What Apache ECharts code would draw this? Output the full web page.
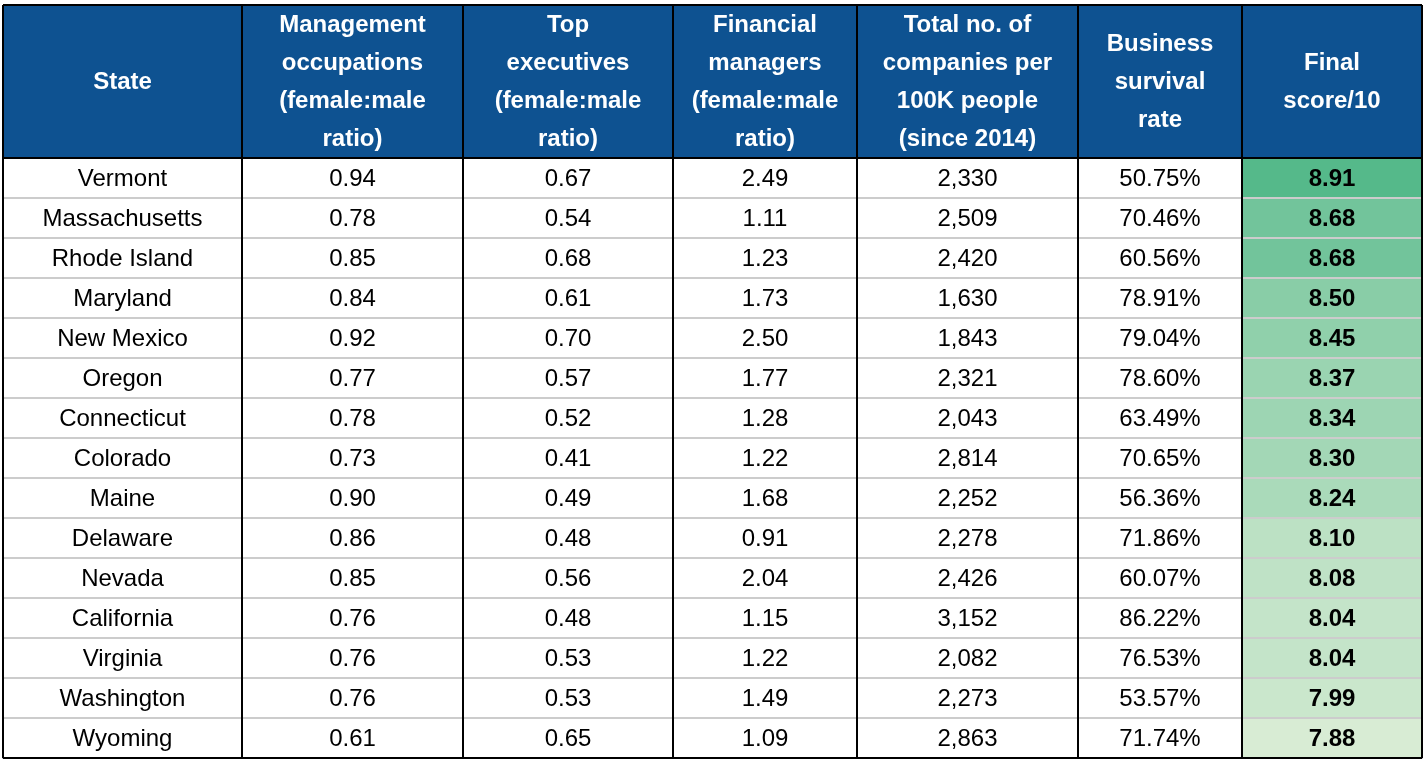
<!DOCTYPE html>
<html>
<head>
<meta charset="utf-8">
<title>Table</title>
<script src="https://cdn.jsdelivr.net/npm/echarts@6/dist/echarts.min.js"></script>
<style>html,body{margin:0;padding:0;background:#fff}</style>
</head>
<body>
<div id="main" style="width:1428px;height:764px;"></div>
<script>
// data
var states = ['Vermont','Massachusetts','Rhode Island','Maryland','New Mexico','Oregon','Connecticut','Colorado','Maine','Delaware','Nevada','California','Virginia','Washington','Wyoming'];
var mgmt = ['0.94','0.78','0.85','0.84','0.92','0.77','0.78','0.73','0.90','0.86','0.85','0.76','0.76','0.76','0.61'];
var topExec = ['0.67','0.54','0.68','0.61','0.70','0.57','0.52','0.41','0.49','0.48','0.56','0.48','0.53','0.53','0.65'];
var finMgr = ['2.49','1.11','1.23','1.73','2.50','1.77','1.28','1.22','1.68','0.91','2.04','1.15','1.22','1.49','1.09'];
var companies = ['2,330','2,509','2,420','1,630','1,843','2,321','2,043','2,814','2,252','2,278','2,426','3,152','2,082','2,273','2,863'];
var survival = ['50.75%','70.46%','60.56%','78.91%','79.04%','78.60%','63.49%','70.65%','56.36%','71.86%','60.07%','86.22%','76.53%','53.57%','71.74%'];
var finalScore = [8.91,8.68,8.68,8.50,8.45,8.37,8.34,8.30,8.24,8.10,8.08,8.04,8.04,7.99,7.88];
var headers = ['State','Management\noccupations\n(female:male\nratio)','Top\nexecutives\n(female:male\nratio)','Financial\nmanagers\n(female:male\nratio)','Total no. of\ncompanies per\n100K people\n(since 2014)','Business\nsurvival\nrate','Final\nscore/10'];

// layout (column edges in pixels)
var edges = [3, 242, 463, 673, 857, 1078, 1242, 1422];
var headTop = 5, headBottom = 158;
var cols = [states, mgmt, topExec, finMgr, companies, survival];

function mix(a, b, t) {
  var r = Math.round(a[0] + (b[0] - a[0]) * t);
  var g = Math.round(a[1] + (b[1] - a[1]) * t);
  var bl = Math.round(a[2] + (b[2] - a[2]) * t);
  return 'rgb(' + r + ',' + g + ',' + bl + ')';
}
var sMax = Math.max.apply(null, finalScore), sMin = Math.min.apply(null, finalScore);

var chart = echarts.init(document.getElementById('main'));
var font = '"Liberation Sans", Arial, Helvetica, sans-serif';

var graphics = [{
  type: 'rect', shape: {x: edges[0], y: headTop, width: edges[7] - edges[0], height: headBottom - headTop},
  style: {fill: '#0e5291'}, z: 1
}];
headers.forEach(function (h, i) {
  graphics.push({
    type: 'text', x: (edges[i] + edges[i + 1]) / 2, y: (headTop + headBottom) / 2 + 1, z: 3,
    style: {text: h, fill: '#fff', font: 'bold 24px ' + font, align: 'center', verticalAlign: 'middle', lineHeight: 38}
  });
});
for (var i = 0; i < edges.length; i++) {
  graphics.push({type: 'line', shape: {x1: edges[i], y1: headTop, x2: edges[i], y2: 758}, style: {stroke: '#000', lineWidth: 2}, z: 10});
}
graphics.push({type: 'line', shape: {x1: edges[0], y1: headTop, x2: edges[7], y2: headTop}, style: {stroke: '#000', lineWidth: 2}, z: 10});
graphics.push({type: 'line', shape: {x1: edges[0], y1: headBottom, x2: edges[7], y2: headBottom}, style: {stroke: '#000', lineWidth: 2}, z: 10});
graphics.push({type: 'line', shape: {x1: edges[0], y1: 758, x2: edges[7], y2: 758}, style: {stroke: '#000', lineWidth: 2}, z: 10});

var option = {
  animation: false,
  grid: {left: 0, right: 0, top: headBottom, bottom: 764 - 758},
  xAxis: {type: 'value', min: 0, max: 1428, show: false},
  yAxis: {type: 'category', data: states, inverse: true, show: false},
  graphic: graphics,
  series: [{
    type: 'custom',
    data: states.map(function (s, i) { return [0, i]; }),
    renderItem: function (params, api) {
      var row = api.value(1);
      var c = api.coord([0, row]);
      var h = api.size([0, 1])[1];
      var y0 = c[1] - h / 2;
      var children = [];
      for (var k = 0; k < 7; k++) {
        var x0 = api.coord([edges[k], row])[0];
        var x1 = api.coord([edges[k + 1], row])[0];
        var fill = '#fff', txt, bold = false;
        if (k < 6) {
          txt = cols[k][row];
        } else {
          var t = (sMax - finalScore[row]) / (sMax - sMin);
          fill = mix([85, 185, 138], [216, 236, 212], t);
          txt = finalScore[row].toFixed(2);
          bold = true;
        }
        children.push({type: 'rect', shape: {x: x0, y: y0, width: x1 - x0, height: h}, style: {fill: fill, stroke: '#cccccc', lineWidth: 2}});
        children.push({
          type: 'text', x: (x0 + x1) / 2, y: y0 + h / 2 + 1,
          style: {text: txt, fill: '#000', font: (bold ? 'bold ' : '') + '24px ' + font, align: 'center', verticalAlign: 'middle'}
        });
      }
      return {type: 'group', children: children};
    }
  }]
};
chart.setOption(option);
</script>
</body>
</html>
